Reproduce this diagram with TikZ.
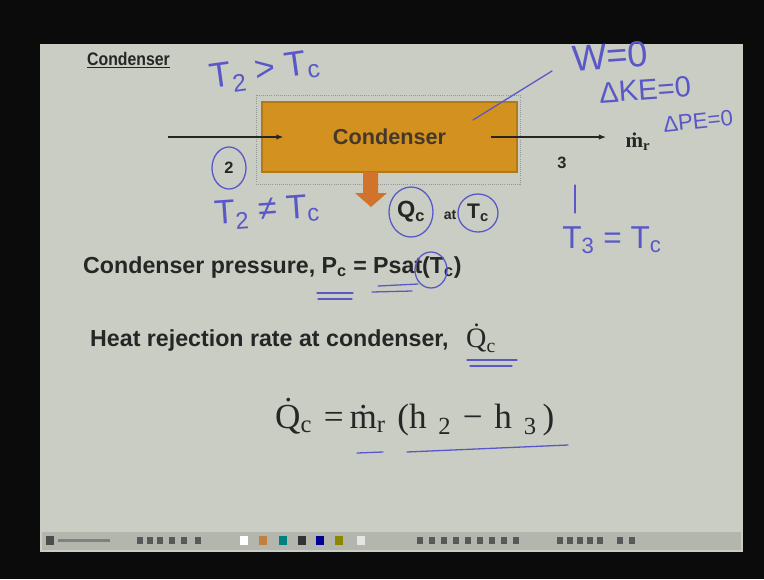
\documentclass[tikz,border=0pt]{standalone}
\usepackage{fontspec}
\setmainfont{Liberation Serif}
\setsansfont{Liberation Sans}
\newfontfamily\penfont{Liberation Sans}
\usetikzlibrary{arrows.meta, positioning}
\definecolor{clrBack}{HTML}{0B0B0B}
\definecolor{clrSlide}{HTML}{C9CDC3}
\definecolor{clrBar}{HTML}{B2B6AD}
\definecolor{clrBox}{HTML}{D3921F}
\definecolor{clrBoxBd}{HTML}{B27A16}
\definecolor{clrHeat}{HTML}{D2732C}
\definecolor{clrPen}{HTML}{5A58C8}
\definecolor{clrInk}{HTML}{262626}

\begin{document}
\begin{tikzpicture}[x=0.03cm, y=-0.03cm,
  pen/.style={draw=clrPen, line width=1.1pt, line cap=round},
  hand/.style={text=clrPen, font=\penfont\fontsize{27}{27}\selectfont, inner sep=0pt},
  slidetxt/.style={text=clrInk, font=\sffamily\bfseries\fontsize{19.8}{20}\selectfont,
                   inner sep=0pt, anchor=west},
  numtxt/.style={text=clrInk, font=\sffamily\bfseries\fontsize{14}{14}\selectfont, inner sep=0pt},
  flow/.style={draw=clrInk, line width=0.9pt, -{Latex[length=6pt,width=4.5pt]}}]

  % screen and slide
  \useasboundingbox (0,0) rectangle (764,579);
  \fill[clrBack] (0,0) rectangle (764,579);
  \fill[clrSlide] (40,44) rectangle (743,552);

  \node[font=\sffamily\bfseries\fontsize{13.5}{13.5}\selectfont, text=clrInk,
        anchor=west, inner sep=0pt, yscale=1.15] (title) at (87,60) {\underline{Condenser}};

  % condenser block
  \draw[gray!70!clrSlide, densely dotted, line width=0.8pt] (256,95) rectangle (520,184);
  \node[draw=clrBoxBd, fill=clrBox, line width=1pt, minimum width=7.65cm,
        minimum height=2.1cm, inner sep=0pt, text=clrInk!80!brown,
        font=\sffamily\bfseries\fontsize{18.5}{18.5}\selectfont] (cond) at (389.5,137) {Condenser};

  \coordinate (inStart) at (168,137);
  \coordinate (outTip) at (606,137);
  \draw[flow] (inStart) -- ([xshift=0.66cm]cond.west);
  \draw[flow] ([xshift=-0.81cm]cond.east) -- (outTip);

  \node[numtxt] (st2) at (229,168) {2};
  \node[numtxt] (st3) at (562,163) {3};
  \node[text=clrInk, font=\rmfamily\bfseries\fontsize{18}{18}\selectfont,
        inner sep=0pt] (mr) at (638,142) {\.{m}\textsubscript{r}};

  % heat leaving
  \fill[clrHeat] (363,172) -- (363,193) -- (355,193) -- (371,207) -- (387,193)
    -- (378,193) -- (378,172) -- cycle;
  \node[text=clrInk, font=\sffamily\bfseries\fontsize{20}{20}\selectfont,
        inner sep=0pt] (qc) at (411,212) {Q\textsubscript{c}};
  \node[text=clrInk, font=\sffamily\bfseries\fontsize{12}{12}\selectfont,
        inner sep=0pt] (atw) at (450,215) {at};
  \node[text=clrInk, font=\sffamily\bfseries\fontsize{18}{18}\selectfont,
        inner sep=0pt] (tc) at (478,213) {T\textsubscript{c}};

  % slide text
  \node[slidetxt] (pres) at (83,267) {Condenser pressure, P\textsubscript{c} = Psat(T\textsubscript{c})};
  \node[slidetxt] (rej) at (90,340) {Heat rejection rate at condenser,};
  \node[text=clrInk, font=\rmfamily\fontsize{24}{24}\selectfont, inner sep=0pt,
        anchor=west] (qdot) at (466,338) {\.{Q}\textsubscript{c}};
  \node[text=clrInk, font=\rmfamily\fontsize{30}{30}\selectfont, inner sep=0pt, anchor=west]
        (eq) at (275,417) {\.{Q}\textsubscript{c}\,\,=\,\.{m}\textsubscript{r}\,\,(h\,\,\textsubscript{2}\,\,−\,\,h\,\,\textsubscript{3}\,)};

  % pen notes
  \node[hand, rotate=8, font=\penfont\fontsize{30}{30}\selectfont] (hTop) at (265,72) {T\textsubscript{2} > T\textsubscript{c}};
  \node[hand, rotate=4, font=\penfont\fontsize{29}{29}\selectfont] (hNe) at (267,212) {T\textsubscript{2} ≠ T\textsubscript{c}};
  \node[hand, rotate=4, font=\penfont\fontsize{31}{31}\selectfont] (hW) at (610,56) {W=0};
  \node[hand, rotate=4, font=\penfont\fontsize{25}{25}\selectfont] (hKe) at (645,90) {ΔKE=0};
  \node[hand, rotate=6, font=\penfont\fontsize{19}{19}\selectfont] (hPe) at (698,121) {ΔPE=0};
  \node[hand] (hT3) at (612,240) {T\textsubscript{3} = T\textsubscript{c}};

  \coordinate (wTail) at (552,71);
  \coordinate (wTip) at (473,120);
  \draw[pen] (wTail) -- (wTip);
  \draw[pen] (575,185) -- (575,213);

  \draw[pen] (st2) ellipse [x radius=17, y radius=21];
  \draw[pen] (qc) ellipse [x radius=22, y radius=25];
  \draw[pen] (tc) ellipse [x radius=20, y radius=19];
  \draw[pen] (431,270) ellipse [x radius=16, y radius=18];

  \draw[pen] (317,293) -- (353,293);
  \draw[pen] (318,299) -- (352,299);
  \draw[pen] (378,286) -- (418,284);
  \draw[pen] (372,292) -- (412,291);
  \draw[pen] (467,360) -- (517,360);
  \draw[pen] (470,366) -- (512,366);
  \draw[pen] (357,453) -- (383,452);
  \draw[pen] (407,452) -- (568,445);

  % toolbar
  \fill[clrBar] (42,532) rectangle (741,550);
  \fill[gray!60!black] (46,536) rectangle (54,545);
  \fill[gray] (58,539) rectangle (110,542);
  \foreach \x/\c in {244/white, 263/brown, 283/teal, 302/black!80,
                     320/blue!60!black, 339/olive, 361/white!80!gray} {
    \fill[\c] (\x-4,536) rectangle (\x+4,545);
  }
  \foreach \x in {140,150,160,172,184,198,420,432,444,456,468,480,492,504,516,
                  560,570,580,590,600,620,632} {
    \fill[gray!70!black] (\x-3,537) rectangle (\x+3,544);
  }
\end{tikzpicture}
\end{document}
